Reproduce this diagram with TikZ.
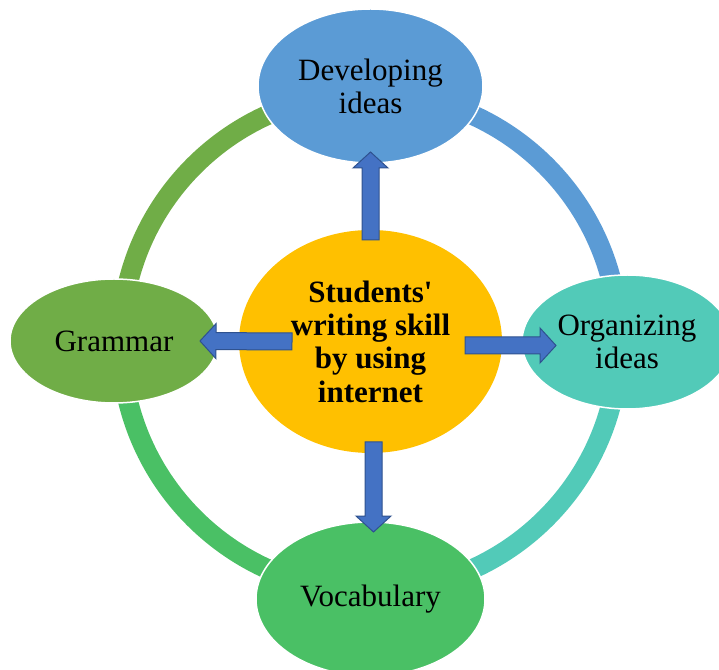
\documentclass[tikz,border=0pt]{standalone}
\usepackage{fontspec}
\setmainfont{Liberation Serif}
\usetikzlibrary{shapes.geometric,calc}
\definecolor{cBlue}{HTML}{5B9BD5}
\definecolor{cTeal}{HTML}{52CAB8}
\definecolor{cGreen}{HTML}{4AC065}
\definecolor{cOlive}{HTML}{70AD47}
\definecolor{cGold}{HTML}{FFC000}
\definecolor{aFill}{HTML}{4472C4}
\definecolor{aEdge}{HTML}{2F528F}
\tikzset{
  bubble/.style={ellipse, draw=white, line width=1.5pt, inner sep=0pt, align=center,
    font=\fontsize{31}{33}\selectfont, text=black},
  corebubble/.style={ellipse, fill=cGold, inner sep=0pt, align=center,
    font=\bfseries\fontsize{31}{33.3}\selectfont, text=black},
  ringseg/.style={line width=20pt},
  blockarrow/.style={fill=aFill, draw=aEdge, line width=1pt, line join=miter,
    to path={
      ($(\tikztostart)!8.5pt!90:(\tikztotarget)$)
      -- ($(\tikztotarget)!16pt!(\tikztostart)!8.5pt!-90:(\tikztostart)$)
      -- ($(\tikztotarget)!16pt!(\tikztostart)!17.5pt!-90:(\tikztostart)$)
      -- (\tikztotarget)
      -- ($(\tikztotarget)!16pt!(\tikztostart)!17.5pt!90:(\tikztostart)$)
      -- ($(\tikztotarget)!16pt!(\tikztostart)!8.5pt!90:(\tikztostart)$)
      -- ($(\tikztostart)!8.5pt!-90:(\tikztotarget)$)
      -- cycle}}
}
\begin{document}
\begin{tikzpicture}[x=1pt,y=1pt]
\useasboundingbox (0,0) rectangle (719,669);
\coordinate (c) at (370,327);
% ring
\draw[ringseg, cOlive] ($(c)+(90:249pt)$) arc[start angle=90, end angle=180, radius=249pt];
\draw[ringseg, cGreen] ($(c)+(180:249pt)$) arc[start angle=180, end angle=270, radius=249pt];
\draw[ringseg, cTeal] ($(c)+(270:249pt)$) arc[start angle=270, end angle=360, radius=249pt];
\draw[ringseg, cBlue] ($(c)+(0:249pt)$) arc[start angle=0, end angle=90, radius=249pt];
% outer bubbles
\node[bubble, fill=cBlue, minimum width=225pt, minimum height=154pt] (dev) at (370.5,583) {Developing\\ideas};
\node[bubble, fill=cTeal, minimum width=210pt, minimum height=134pt] (org) at (627,327) {Organizing\\ideas};
\node[bubble, fill=cGreen, minimum width=229pt, minimum height=154pt] (voc) at (370.5,70) {Vocabulary};
\node[bubble, fill=cOlive, minimum width=208pt, minimum height=124pt] (gram) at (114,328) {Grammar};
% centre
\node[corebubble, minimum width=263pt, minimum height=223pt] (core) at (370.5,327.5)
  {Students\textquotesingle\\writing skill\\by using\\internet};
% arrows
\coordinate (upS) at (370.5,429);   \coordinate (upE) at (370.5,517);
\coordinate (leS) at (292,327.5);   \coordinate (leE) at (200,328);
\coordinate (riS) at (465,323.5);   \coordinate (riE) at (556,323.5);
\coordinate (dnS) at (373.5,227);   \coordinate (dnE) at (373.5,137);
\draw[blockarrow] (upS) to (upE);
\draw[blockarrow] (leS) to (leE);
\draw[blockarrow] (riS) to (riE);
\draw[blockarrow] (dnS) to (dnE);
\end{tikzpicture}
\end{document}
